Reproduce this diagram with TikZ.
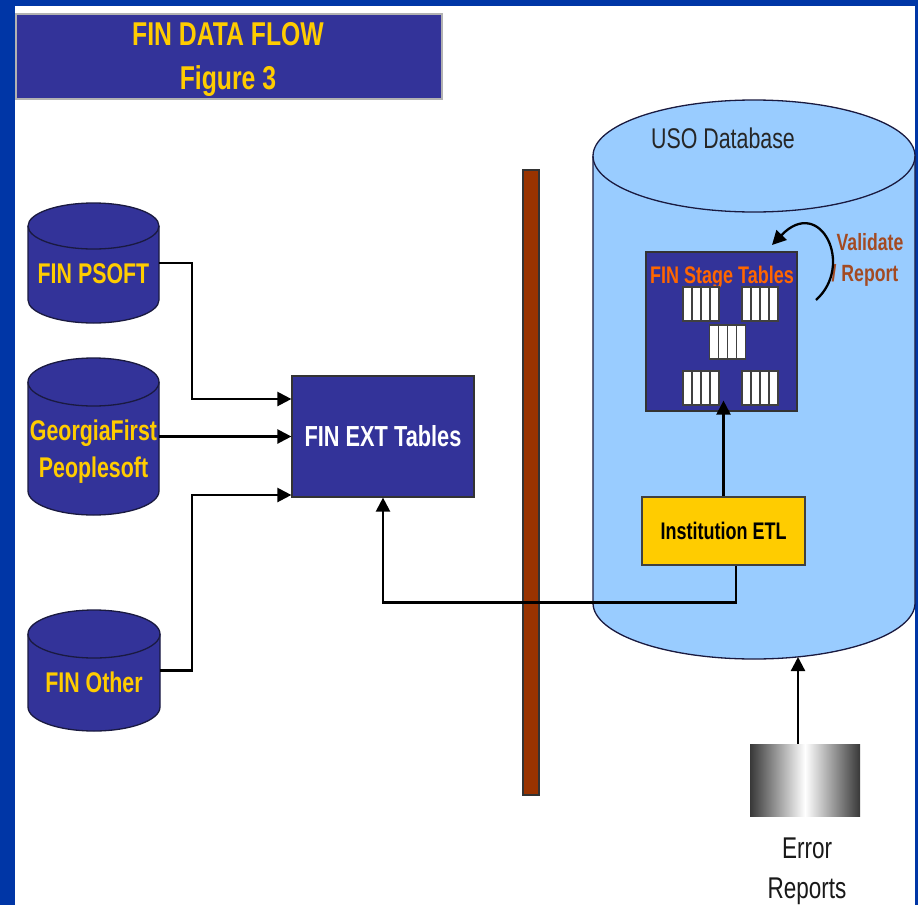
\documentclass[tikz,border=0pt]{standalone}
\usepackage{fontspec}
\setmainfont{Liberation Sans}[FakeStretch=0.75]
\usetikzlibrary{arrows.meta,calc}
\definecolor{frameblue}{HTML}{0036A6}
\definecolor{navy}{HTML}{333399}
\definecolor{ylw}{HTML}{FFCC00}
\definecolor{skyblue}{HTML}{99CCFF}
\definecolor{brown}{HTML}{993300}
\definecolor{stageorange}{HTML}{FF6600}
\definecolor{valbrown}{HTML}{A34A22}
\definecolor{cyledge}{HTML}{1A1A40}
\newcommand\drawcyl[6]{%
  \filldraw[fill=#6, draw=cyledge, line width=1.3pt] ({#1-#4},{#3-#5})
    arc[start angle=180,end angle=360,x radius=#4pt,y radius=#5pt]
    -- ({#1+#4},{#2+#5})
    arc[start angle=0,end angle=180,x radius=#4pt,y radius=#5pt] -- cycle;
  \draw[draw=cyledge, line width=1.3pt] ({#1-#4},{#2+#5})
    arc[start angle=180,end angle=360,x radius=#4pt,y radius=#5pt];
}
\newcommand\minitab[2]{%
  \fill[white] (#1,#2) rectangle ++(36,34);
  \foreach \tabcol in {1,2,3} \draw[tabline] ({#1+9*\tabcol},#2) -- ++(0,34);
  \draw[tabline] (#1,#2) rectangle ++(36,34);
}
\tikzset{
  tabline/.style={draw=black!75, line width=1.2pt},
  navybox/.style={rectangle, fill=navy, draw=black!80, line width=1.2pt, inner sep=0pt},
  holder/.style={rectangle, inner sep=0pt},
  conn/.style={draw=black, line width=2.3pt, -{Triangle[length=14pt,width=14pt]}},
  ytext/.style={anchor=base, text=ylw, font={\bfseries\fontsize{28.5}{34}\selectfont}, inner sep=0pt},
}
\begin{document}
\begin{tikzpicture}[x=1pt,y=-1pt]
\useasboundingbox (0,0) rectangle (918,905);
% frame
\fill[frameblue] (0,0) rectangle (918,905);
\fill[white] (15,6) rectangle (915,905);

% title
\node[navybox, draw=gray!60, minimum width=426pt, minimum height=85pt] (title) at (229,56.5) {};
\node[anchor=base, text=ylw, font={\bfseries\fontsize{33}{40}\selectfont}, inner sep=0pt] (title1) at (228,45) {FIN DATA FLOW};
\node[anchor=base, text=ylw, font={\bfseries\fontsize{33}{40}\selectfont}, inner sep=0pt] (title2) at (228,89) {Figure 3};

% left cylinders
\drawcyl{93.5}{203}{323}{65.5}{23}{navy}
\node[holder, minimum width=131pt, minimum height=120pt] (psoft) at (93.5,263) {};
\node[ytext] (psofttext) at (93.5,283) {FIN PSOFT};

\drawcyl{93.5}{358}{515}{65.5}{24}{navy}
\node[holder, minimum width=131pt, minimum height=157pt] (gf) at (93.5,436.5) {};
\node[ytext] (gftext1) at (93.5,440) {GeorgiaFirst};
\node[ytext] (gftext2) at (93.5,477) {Peoplesoft};

\drawcyl{94}{610}{731}{66}{24}{navy}
\node[holder, minimum width=132pt, minimum height=121pt] (other) at (94,670.5) {};
\node[ytext] (othertext) at (94,692) {FIN Other};

% FIN EXT Tables
\node[navybox, minimum width=182pt, minimum height=121pt, text=white,
      font={\bfseries\fontsize{29}{34}\selectfont}] (ext) at (383,436.5) {FIN EXT Tables};

% brown bar
\node[rectangle, fill=brown, draw=black!80, line width=1.2pt, inner sep=0pt,
      minimum width=16pt, minimum height=625pt] (bar) at (531,482.5) {};

% USO database cylinder
\drawcyl{754}{100}{659}{161}{56}{skyblue}
\node[holder, minimum width=322pt, minimum height=559pt] (uso) at (754,379.5) {};
\node[anchor=base, inner sep=0pt, text=black!85, font={\fontsize{28.5}{34}\selectfont}] (usotext) at (723,148) {USO Database};

% FIN Stage Tables
\node[navybox, minimum width=151pt, minimum height=159pt] (stage) at (721.5,331.5) {};
\node[anchor=base, inner sep=0pt, text=stageorange, font={\bfseries\fontsize{24}{30}\selectfont}] (stagetext) at (722,283.6) {FIN Stage Tables};
\minitab{683}{287}
\minitab{742}{287}
\minitab{709.5}{325}
\minitab{683}{371}
\minitab{742}{371}

% Validate / Report
\node[anchor=base west, inner sep=0pt, text=valbrown, font={\bfseries\fontsize{23.5}{30}\selectfont}] (val1) at (836.5,250.5) {Validate};
\node[anchor=base west, inner sep=0pt, text=valbrown, font={\bfseries\fontsize{23.5}{30}\selectfont}] (val2) at (831.5,281.5) {/ Report};
\coordinate (vstart) at (816,300);
\coordinate (vend) at (772,245);
\draw[conn] (vstart) .. controls (855,265) and (820,195) .. (vend);

% Institution ETL
\node[rectangle, fill=ylw, draw=black!75, line width=1.2pt, inner sep=0pt,
      minimum width=163pt, minimum height=68pt,
      font={\bfseries\fontsize{24}{30}\selectfont}] (etl) at (723.5,531) {Institution ETL};

% Error Reports
\node[rectangle, inner sep=0pt, minimum width=110pt, minimum height=72pt,
      left color=black!78, right color=black!78, middle color=white] (err) at (805,780) {};
\node[anchor=base, inner sep=0pt, text=black!90, font={\fontsize{30}{36}\selectfont}] (errtext1) at (807,858) {Error};
\node[anchor=base, inner sep=0pt, text=black!90, font={\fontsize{30}{36}\selectfont}] (errtext2) at (807,898) {Reports};

% connectors
\draw[conn] (psoft.east) -- ++(33,0) |- ([yshift=37.5pt]ext.west);
\draw[conn] (gf.east) -- (ext.west);
\draw[conn] (other.east) -- ++(32,0) |- ([yshift=-58.5pt]ext.west);
\draw[conn] ([xshift=12.5pt]etl.south) -- ++(0,37) -| (ext.south);
\coordinate (stagein) at ([yshift=11pt]stage.south);
\draw[conn] (etl.north) -- (etl.north |- stagein);
\coordinate (usobot) at (798,657);
\draw[conn] (err.north -| usobot) -- (usobot);
\end{tikzpicture}
\end{document}
